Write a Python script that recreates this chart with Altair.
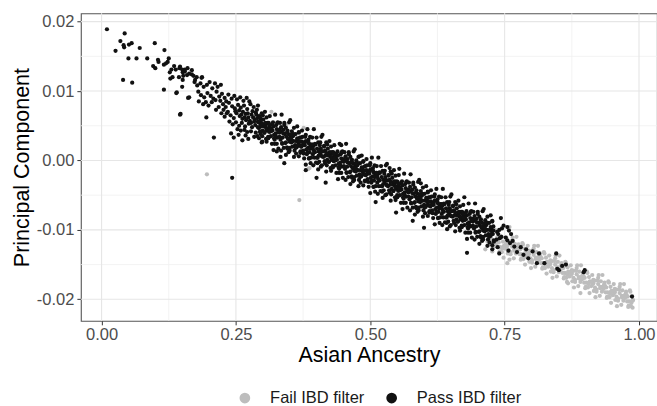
import altair as alt
import pandas as pd

# Values.
# Ancestry in thousandths, principal component in units of 1e-4.

pass_sparse = [
    (10, 189), (43, 183), (35, 172), (26, 158), (42, 163), (41, 166), (51, 167), (56, 169),
    (71, 162), (50, 147), (65, 147), (40, 116), (57, 112), (99, 169), (117, 159), (85, 147),
    (105, 145), (106, 142), (125, 147), (123, 142), (96, 136), (100, 133), (116, 138), (120, 140),
    (130, 131), (135, 136), (138, 131), (127, 127), (132, 120), (128, 118), (145, 133), (151, 127),
    (155, 131), (144, 120), (151, 116), (159, 123), (168, 124), (174, 116), (187, 120), (116, 102),
    (139, 97), (150, 106), (163, 91), (140, 98), (146, 66),
]

pass_mid = [
    (146, 135), (150, 131), (155, 128), (160, 133), (163, 125), (168, 130), (171, 122), (177, 120),
    (186, 119), (152, 122), (173, 113), (178, 108), (184, 111), (190, 106), (196, 109), (201, 113),
    (206, 104), (211, 111), (216, 106), (222, 109), (161, 90), (147, 67), (195, 62), (209, 33),
    (180, 99), (185, 94), (191, 91), (197, 97), (203, 93), (208, 89), (214, 99), (219, 92),
    (224, 96), (229, 90), (181, 85), (189, 81), (194, 84), (199, 79), (236, 95), (242, 89),
    (247, 93), (252, 88), (258, 91), (264, 86), (270, 90), (275, 85), (226, 81), (231, 77),
    (237, 83), (243, 78), (248, 75), (254, 80), (259, 76), (265, 79), (271, 74), (277, 81),
    (283, 77), (289, 73), (223, 68), (229, 63), (235, 70), (240, 65), (246, 61), (251, 68),
    (257, 64), (262, 60), (268, 67), (273, 62), (279, 66), (285, 59), (238, 56), (244, 52),
    (250, 55), (256, 50), (261, 54), (267, 49), (274, 53), (280, 48), (286, 51), (292, 47),
    (241, 39), (246, 33), (255, 37), (262, 29), (268, 36), (273, 31), (278, 42), (284, 34),
    (293, 32), (299, 27), (213, 73), (218, 77), (232, 85), (243, -25), (205, 84), (212, 87),
    (221, 86), (227, 73), (233, 68), (249, 71), (256, 72), (263, 70), (269, 58), (276, 57),
    (282, 62), (288, 66), (291, 56), (296, 60), (253, 45), (259, 43), (266, 44), (271, 41),
    (287, 40), (295, 42), (260, 66), (266, 62), (272, 68), (278, 54), (284, 56), (290, 61),
    (296, 52), (281, 71), (287, 69), (293, 64),
]

pass_edges = [
    (326, 13), (333, 5), (340, -4), (380, -14), (400, -25), (417, -32), (446, 22), (480, 6),
    (536, -11), (554, -12), (594, -33), (675, -53), (510, -60), (548, -75), (579, -87),
    (600, -97), (680, -133),
]

# dense band, one slice per 0.02 of ancestry: (ancestry list, pc list)
band_slices = [
    ([291, 304, 298, 307, 294, 301, 309, 296, 305, 292, 302, 306, 297, 308, 293, 300, 303, 295, 310, 299, 290, 307, 298, 304],
     [79, 70, 68, 62, 63, 59, 54, 56, 51, 55, 49, 47, 49, 43, 47, 43, 40, 41, 34, 35, 35, 27, 26, 53]),
    ([323, 313, 328, 319, 325, 311, 320, 326, 316, 329, 318, 314, 324, 312, 321, 327, 315, 322, 310, 326, 317, 329, 320, 313],
     [66, 64, 55, 55, 51, 54, 49, 45, 46, 41, 43, 43, 39, 41, 37, 33, 35, 30, 32, 24, 24, 17, 15, 48]),
    ([335, 349, 340, 332, 343, 346, 338, 348, 334, 341, 331, 344, 347, 337, 350, 333, 342, 336, 345, 339, 348, 334, 343, 331],
     [66, 55, 54, 54, 47, 43, 44, 38, 42, 38, 40, 34, 31, 33, 27, 30, 25, 25, 19, 18, 12, 14, 8, 44]),
    ([351, 364, 358, 367, 354, 361, 369, 356, 365, 352, 362, 366, 357, 368, 353, 360, 363, 355, 370, 359, 350, 367, 358, 364],
     [58, 49, 47, 41, 42, 38, 33, 35, 30, 34, 28, 26, 28, 22, 26, 22, 19, 20, 13, 14, 14, 6, 5, 32]),
    ([383, 373, 388, 379, 385, 371, 380, 386, 376, 389, 378, 374, 384, 372, 381, 387, 375, 382, 370, 386, 377, 389, 380, 373],
     [45, 43, 34, 34, 30, 33, 28, 24, 25, 20, 22, 22, 18, 20, 16, 12, 14, 9, 11, 3, 3, -4, -6, 27]),
    ([395, 409, 400, 392, 403, 406, 398, 408, 394, 401, 391, 404, 407, 397, 410, 393, 402, 396, 405, 399, 408, 394, 403, 391],
     [45, 34, 33, 33, 26, 22, 23, 17, 21, 17, 19, 13, 10, 12, 6, 9, 4, 4, -2, -3, -9, -7, -13, 23]),
    ([411, 424, 418, 427, 414, 421, 429, 416, 425, 412, 422, 426, 417, 428, 413, 420, 423, 415, 430, 419, 410, 427, 418, 424],
     [37, 28, 26, 20, 21, 17, 12, 14, 9, 13, 7, 5, 7, 1, 5, 1, -2, -1, -8, -7, -7, -15, -16, 11]),
    ([443, 433, 448, 439, 445, 431, 440, 446, 436, 449, 438, 434, 444, 432, 441, 447, 435, 442, 430, 446, 437, 449, 440, 433],
     [24, 22, 13, 13, 9, 12, 7, 3, 4, -1, 1, 1, -3, -1, -5, -9, -7, -12, -10, -18, -18, -25, -27, 6]),
    ([455, 469, 460, 452, 463, 466, 458, 468, 454, 461, 451, 464, 467, 457, 470, 453, 462, 456, 465, 459, 468, 454, 463, 451],
     [24, 13, 12, 12, 5, 1, 2, -4, 0, -4, -2, -8, -11, -9, -15, -12, -17, -17, -23, -24, -30, -28, -34, 2]),
    ([471, 484, 478, 487, 474, 481, 489, 476, 485, 472, 482, 486, 477, 488, 473, 480, 483, 475, 490, 479, 470, 487, 478, 484],
     [16, 7, 5, -1, 0, -4, -9, -7, -12, -8, -14, -16, -14, -20, -16, -20, -23, -22, -29, -28, -28, -36, -37, -10]),
    ([503, 493, 508, 499, 505, 491, 500, 506, 496, 509, 498, 494, 504, 492, 501, 507, 495, 502, 490, 506, 497, 509, 500, 493],
     [4, 2, -7, -7, -11, -8, -13, -17, -16, -21, -19, -19, -23, -21, -25, -29, -27, -32, -30, -38, -38, -45, -47, -14]),
    ([515, 529, 520, 512, 523, 526, 518, 528, 514, 521, 511, 524, 527, 517, 530, 513, 522, 516, 525, 519, 528, 514, 523, 511],
     [4, -7, -8, -8, -15, -19, -18, -24, -20, -24, -22, -28, -31, -29, -35, -32, -37, -37, -43, -44, -50, -48, -54, -18]),
    ([531, 544, 538, 547, 534, 541, 549, 536, 545, 532, 542, 546, 537, 548, 533, 540, 543, 535, 550, 539, 530, 547, 538, 544],
     [-5, -14, -16, -22, -21, -25, -30, -28, -33, -29, -35, -37, -35, -41, -37, -41, -44, -43, -50, -49, -49, -57, -58, -31]),
    ([563, 553, 568, 559, 565, 551, 560, 566, 556, 569, 558, 554, 564, 552, 561, 567, 555, 562, 550, 566, 557, 569, 560, 553],
     [-19, -21, -30, -30, -34, -31, -36, -40, -39, -44, -42, -42, -46, -44, -48, -52, -50, -55, -53, -61, -61, -68, -70, -37]),
    ([575, 589, 580, 572, 583, 586, 578, 588, 574, 581, 571, 584, 587, 577, 590, 573, 582, 576, 585, 579, 588, 574, 583, 571],
     [-20, -31, -32, -32, -39, -43, -42, -48, -44, -48, -46, -52, -55, -53, -59, -56, -61, -61, -67, -68, -74, -72, -78, -42]),
    ([591, 604, 598, 607, 594, 601, 609, 596, 605, 592, 602, 606, 597, 608, 593, 600, 603, 595, 610, 599, 590, 607, 598, 604],
     [-28, -37, -39, -45, -44, -48, -53, -51, -56, -52, -58, -60, -58, -64, -60, -64, -67, -66, -73, -72, -72, -80, -81, -54]),
    ([623, 613, 628, 619, 625, 611, 620, 626, 616, 629, 618, 614, 624, 612, 621, 627, 615, 622, 610, 626, 617, 629, 620, 613],
     [-41, -43, -52, -52, -56, -53, -58, -62, -61, -66, -64, -64, -68, -66, -70, -74, -72, -77, -75, -83, -83, -90, -92, -59]),
    ([635, 649, 640, 632, 643, 646, 638, 648, 634, 641, 631, 644, 647, 637, 650, 633, 642, 636, 645, 639, 648, 634, 643, 631],
     [-41, -52, -53, -53, -60, -64, -63, -69, -65, -69, -67, -73, -76, -74, -80, -77, -82, -82, -88, -89, -95, -93, -99, -63]),
    ([651, 664, 658, 667, 654, 661, 669, 656, 665, 652, 662, 666, 657, 668, 653, 660, 663, 655, 670, 659, 650, 667, 658, 664],
     [-49, -58, -60, -66, -65, -69, -74, -72, -77, -73, -79, -81, -79, -85, -81, -85, -88, -87, -94, -93, -93, -101, -102, -75]),
    ([683, 673, 688, 679, 685, 671, 680, 686, 676, 689, 678, 674, 684, 672, 681, 687, 675, 682, 670, 686, 677, 689, 680, 673],
     [-62, -64, -73, -73, -77, -74, -79, -83, -82, -87, -85, -85, -89, -87, -91, -95, -93, -98, -96, -104, -104, -111, -113, -80]),
    ([695, 709, 700, 692, 703, 706, 698, 708, 694, 701, 691, 704, 707, 697, 710, 693, 702, 696, 705, 699, 708, 694, 703, 691],
     [-62, -73, -74, -74, -81, -85, -84, -90, -86, -90, -88, -94, -97, -95, -101, -98, -103, -103, -109, -110, -116, -114, -120, -84]),
    ([711, 724, 718, 727, 714, 721, 729, 716, 725, 712, 722, 726, 717, 728, 713, 720, 723, 715, 730, 719, 710, 727, 718, 724],
     [-70, -79, -81, -87, -86, -90, -95, -93, -98, -94, -100, -102, -100, -106, -102, -106, -109, -108, -115, -114, -114, -122, -123, -96]),
    ([743, 748, 745, 740, 736, 738, 744, 741, 735, 730, 737, 740],
     [-83, -94, -98, -100, -103, -106, -110, -112, -114, -117, -125, -134]),
    ([755, 762, 758, 765, 752, 768, 760, 757],
     [-96, -106, -101, -116, -111, -124, -119, -130]),
]

# extra points in the solid core of the band
band_core = [
    ([300, 294, 305, 298, 308, 291, 303, 296, 306, 309], [65, 62, 54, 53, 45, 48, 40, 38, 31, 46]),
    ([327, 317, 312, 329, 315, 324, 321, 310, 322, 313], [54, 52, 51, 41, 42, 35, 32, 32, 24, 45]),
    ([340, 334, 345, 338, 348, 331, 343, 336, 346, 349], [51, 48, 40, 39, 31, 34, 26, 24, 17, 32]),
    ([367, 357, 352, 369, 355, 364, 361, 350, 362, 353], [40, 38, 37, 27, 28, 21, 18, 18, 10, 31]),
    ([380, 374, 385, 378, 388, 371, 383, 376, 386, 389], [37, 34, 26, 25, 17, 20, 12, 10, 3, 18]),
    ([407, 397, 392, 409, 395, 404, 401, 390, 402, 393], [26, 24, 23, 13, 14, 7, 4, 4, -4, 17]),
    ([420, 414, 425, 418, 428, 411, 423, 416, 426, 429], [23, 20, 12, 11, 3, 6, -2, -4, -11, 4]),
    ([447, 437, 432, 449, 435, 444, 441, 430, 442, 433], [12, 10, 9, -1, 0, -7, -10, -10, -18, 3]),
    ([460, 454, 465, 458, 468, 451, 463, 456, 466, 469], [9, 6, -2, -3, -11, -8, -16, -18, -25, -10]),
    ([487, 477, 472, 489, 475, 484, 481, 470, 482, 473], [-2, -4, -5, -15, -14, -21, -24, -24, -32, -11]),
    ([500, 494, 505, 498, 508, 491, 503, 496, 506, 509], [-4, -7, -15, -16, -24, -21, -29, -31, -38, -23]),
    ([527, 517, 512, 529, 515, 524, 521, 510, 522, 513], [-15, -17, -18, -28, -27, -34, -37, -37, -45, -24]),
    ([540, 534, 545, 538, 548, 531, 543, 536, 546, 549], [-19, -22, -30, -31, -39, -36, -44, -46, -53, -38]),
    ([567, 557, 552, 569, 555, 564, 561, 550, 562, 553], [-31, -33, -34, -44, -43, -50, -53, -53, -61, -40]),
    ([580, 574, 585, 578, 588, 571, 583, 576, 586, 589], [-35, -38, -46, -47, -55, -52, -60, -62, -69, -54]),
    ([607, 597, 592, 609, 595, 604, 601, 590, 602, 593], [-46, -48, -49, -59, -58, -65, -68, -68, -76, -55]),
    ([620, 614, 625, 618, 628, 611, 623, 616, 626, 629], [-49, -52, -60, -61, -69, -66, -74, -76, -83, -68]),
    ([647, 637, 632, 649, 635, 644, 641, 630, 642, 633], [-60, -62, -63, -73, -72, -79, -82, -82, -90, -69]),
    ([660, 654, 665, 658, 668, 651, 663, 656, 666, 669], [-63, -66, -74, -75, -83, -80, -88, -90, -97, -82]),
    ([687, 677, 672, 689, 675, 684, 681, 670, 682, 673], [-74, -76, -77, -87, -86, -93, -96, -96, -104, -83]),
    ([700, 694, 705, 698, 708, 691, 703, 696, 706, 709], [-77, -80, -88, -89, -97, -94, -102, -104, -111, -96]),
    ([727, 717, 712, 729, 715, 724, 721, 710, 722, 713], [-88, -90, -91, -101, -100, -107, -110, -110, -118, -97]),
]

pass_among_fail = [
    (773, -132), (794, -141), (814, -134), (810, -148), (846, -134), (851, -158), (824, -148),
    (848, -156), (857, -152), (897, -161), (899, -158), (780, -125), (790, -128), (785, -136),
    (987, -196), (727, -128), (802, -131), (864, -150), (755, -115),
]

fail_slices = [
    ([732, 743, 736, 747, 739, 749, 734, 742, 731, 745, 740, 748, 737, 746],
     [-100, -109, -111, -117, -118, -123, -120, -125, -124, -132, -133, -140, -116, -127]),
    ([765, 753, 769, 758, 764, 755, 768, 751, 761, 756, 767, 759, 763, 754],
     [-111, -111, -120, -119, -124, -123, -130, -127, -132, -134, -141, -143, -119, -124]),
    ([772, 783, 776, 787, 779, 789, 774, 782, 771, 785, 780, 788, 777, 786],
     [-110, -119, -121, -127, -128, -133, -130, -135, -134, -142, -143, -150, -126, -137]),
    ([805, 793, 809, 798, 804, 795, 808, 791, 801, 796, 807, 799, 803, 794],
     [-123, -123, -132, -131, -136, -135, -142, -139, -144, -146, -153, -155, -131, -136]),
    ([812, 823, 816, 827, 819, 829, 814, 822, 811, 825, 820, 828, 817, 826],
     [-123, -132, -134, -140, -141, -146, -143, -148, -147, -155, -156, -163, -139, -150]),
    ([845, 833, 849, 838, 844, 835, 848, 831, 841, 836, 847, 839, 843, 834],
     [-137, -137, -146, -145, -150, -149, -156, -153, -158, -160, -167, -169, -145, -150]),
    ([852, 863, 856, 867, 859, 869, 854, 862, 851, 865, 860, 868, 857, 866],
     [-137, -146, -148, -154, -155, -160, -157, -162, -161, -169, -170, -177, -153, -164]),
    ([885, 873, 889, 878, 884, 875, 888, 871, 881, 876, 887, 879, 883, 874],
     [-151, -151, -160, -159, -164, -163, -170, -167, -172, -174, -181, -183, -159, -164]),
    ([892, 903, 896, 907, 899, 909, 894, 902, 891, 905, 900, 908, 897, 906],
     [-151, -160, -162, -168, -169, -174, -171, -176, -175, -183, -184, -191, -167, -178]),
    ([925, 913, 929, 918, 924, 915, 928, 911, 921, 916, 927, 919, 923, 914],
     [-165, -165, -174, -173, -178, -177, -184, -181, -186, -188, -195, -197, -173, -178]),
    ([932, 943, 936, 947, 939, 949, 934, 942, 931, 945, 940, 948, 937, 946],
     [-165, -174, -176, -182, -183, -188, -185, -190, -189, -197, -198, -205, -181, -192]),
    ([965, 953, 969, 958, 964, 955, 968, 951, 961, 956, 967, 959, 963, 954],
     [-178, -178, -187, -186, -191, -190, -197, -194, -199, -201, -208, -210, -186, -191]),
    ([972, 983, 976, 987, 979, 989, 974, 982, 971, 985, 980, 988, 977, 986],
     [-178, -187, -189, -195, -196, -201, -198, -203, -202, -210, -211, -212, -194, -205]),
    ([744, 735, 748, 738, 741, 732], [-111, -114, -124, -125, -131, -117]),
    ([764, 755, 768, 758, 761, 752], [-115, -118, -128, -129, -135, -121]),
    ([784, 775, 788, 778, 781, 772], [-121, -124, -134, -135, -141, -127]),
    ([804, 795, 808, 798, 801, 792], [-127, -130, -140, -141, -147, -133]),
    ([824, 815, 828, 818, 821, 812], [-134, -137, -147, -148, -154, -140]),
    ([844, 835, 848, 838, 841, 832], [-141, -144, -154, -155, -161, -147]),
    ([864, 855, 868, 858, 861, 852], [-148, -151, -161, -162, -168, -154]),
    ([884, 875, 888, 878, 881, 872], [-155, -158, -168, -169, -175, -161]),
    ([904, 895, 908, 898, 901, 892], [-162, -165, -175, -176, -182, -168]),
    ([924, 915, 928, 918, 921, 912], [-169, -172, -182, -183, -189, -175]),
    ([944, 935, 948, 938, 941, 932], [-176, -179, -189, -190, -196, -182]),
    ([964, 955, 968, 958, 961, 952], [-182, -185, -195, -196, -202, -188]),
    ([984, 975, 988, 978, 981, 972], [-189, -192, -202, -203, -209, -195]),
]

fail_other = [
    (714, -128), (722, -121), (727, -131), (718, -117), (729, -125), (725, -112),
    (196, -20), (368, -57), (316, 70), (344, 52), (376, 47), (385, -12), (387, -11),
    (755, -148), (866, -175), (891, -191), (759, -96),
]

x_major = [0.0, 0.25, 0.5, 0.75, 1.0]
x_minor = [0.125, 0.375, 0.625, 0.875]
y_major = [-0.02, -0.01, 0.0, 0.01, 0.02]
y_minor = [-0.015, -0.005, 0.005, 0.015]

FAIL = "Fail IBD filter"
PASS = "Pass IBD filter"

rows = []
for a, p in fail_other:
    rows.append((a / 1000, p / 10000, FAIL))
for xs, ys in fail_slices:
    assert len(xs) == len(ys)
    for a, p in zip(xs, ys):
        rows.append((a / 1000, p / 10000, FAIL))
for a, p in pass_sparse + pass_mid + pass_edges + pass_among_fail:
    rows.append((a / 1000, p / 10000, PASS))
for xs, ys in band_slices + band_core:
    assert len(xs) == len(ys)
    for a, p in zip(xs, ys):
        rows.append((a / 1000, p / 10000, PASS))
df = pd.DataFrame(rows, columns=["anc", "pc", "status"])

FONT = "Liberation Sans"
xscale = alt.Scale(domain=[-0.0385, 1.0335], nice=False, zero=False)
yscale = alt.Scale(domain=[-0.0231, 0.0212], nice=False, zero=False)

xaxis = alt.Axis(
    values=x_major, format=".2f", title="Asian Ancestry", grid=False, domain=False,
    tickColor="#333333", tickSize=4, tickWidth=1, labelFontSize=16.5, labelColor="#4d4d4d",
    labelPadding=2, labelFont=FONT, titleFont=FONT, titleFontSize=21.5, titleColor="#000000",
    titleFontWeight="normal", titleY=41, titleBaseline="alphabetic",
)
yaxis = alt.Axis(
    values=y_major, labelExpr="replace(format(datum.value, '.2f'), '\u2212', '-')",
    title="Principal Component", grid=False, domain=False,
    tickColor="#333333", tickSize=4, tickWidth=1, labelFontSize=16.5, labelColor="#4d4d4d",
    labelPadding=3, labelFont=FONT, titleFont=FONT, titleFontSize=21.5, titleColor="#000000",
    titleFontWeight="normal", titleAngle=270, titleX=-52, titleY=154,
    titleBaseline="alphabetic", titleAlign="center",
)

vmaj = alt.Chart(pd.DataFrame({"g": x_major})).mark_rule(color="#e6e6e6", strokeWidth=1.1).encode(
    x=alt.X("g:Q", scale=xscale, axis=xaxis))
vmin = alt.Chart(pd.DataFrame({"g": x_minor})).mark_rule(color="#f0f0f0", strokeWidth=0.8).encode(
    x=alt.X("g:Q", scale=xscale, axis=xaxis))
hmaj = alt.Chart(pd.DataFrame({"g": y_major})).mark_rule(color="#e6e6e6", strokeWidth=1.1).encode(
    y=alt.Y("g:Q", scale=yscale, axis=yaxis))
hmin = alt.Chart(pd.DataFrame({"g": y_minor})).mark_rule(color="#f0f0f0", strokeWidth=0.8).encode(
    y=alt.Y("g:Q", scale=yscale, axis=yaxis))

points = alt.Chart(df).mark_circle(size=18, opacity=1).encode(
    x=alt.X("anc:Q", scale=xscale, axis=xaxis),
    y=alt.Y("pc:Q", scale=yscale, axis=yaxis),
    color=alt.Color(
        "status:N",
        scale=alt.Scale(domain=[FAIL, PASS], range=["#bdbdbd", "#111111"]),
        legend=alt.Legend(
            orient="none", legendX=156, legendY=377, direction="horizontal", title=None,
            symbolType="circle", symbolSize=115, symbolStrokeWidth=0, symbolOpacity=1,
            labelFontSize=16.5, labelFont=FONT, labelColor="#1a1a1a", labelOffset=17,
            columnPadding=19,
        ),
    ),
)

chart = alt.layer(vmin, hmin, vmaj, hmaj, points).properties(
    width=577, height=308,
    padding={"left": 81, "top": 13, "right": 0, "bottom": 85},
    autosize=alt.AutoSizeParams(type="none"),
    background="white",
).configure(font=FONT).configure_view(stroke="#555555", strokeWidth=1.1)

chart.save("out.html", embed_options={"renderer": "svg", "actions": False})
